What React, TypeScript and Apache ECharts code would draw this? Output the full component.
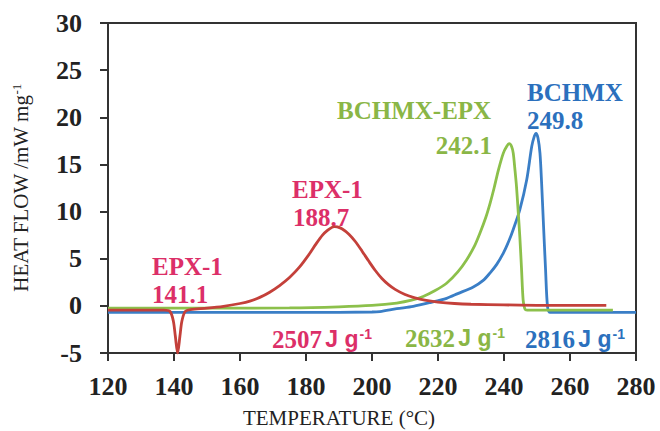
import React, { useEffect, useRef } from "react";
import * as echarts from "echarts";

// EPX-1 (red)
const epxT = [120, 130, 137, 138.8, 139.8, 140.4, 141.1, 141.8, 142.4, 143.4, 145, 150, 155, 160, 163, 166, 169, 172, 175, 178, 181, 183, 185, 186.5, 188, 188.7, 189.5, 191, 193, 195, 197, 199, 201, 203, 205, 207, 210, 213, 216, 220, 225, 230, 240, 250, 271];
const epxV = [-0.45, -0.45, -0.45, -0.6, -1.6, -3.2, -5.0, -3.2, -1.6, -0.6, -0.4, -0.25, -0.05, 0.25, 0.5, 0.9, 1.45, 2.15, 3.0, 4.1, 5.5, 6.55, 7.5, 8.0, 8.35, 8.4, 8.37, 8.15, 7.6, 6.8, 5.8, 4.75, 3.75, 2.9, 2.25, 1.75, 1.2, 0.85, 0.6, 0.4, 0.25, 0.17, 0.1, 0.06, 0.05];

// BCHMX-EPX (green)
const mixT = [120, 150, 175, 190, 200, 207.5, 212, 215.5, 219, 222.6, 226, 228.7, 231, 232.7, 234.5, 235.8, 237, 238.3, 239.8, 240.8, 241.6, 242.3, 242.8, 243.3, 243.8, 244.3, 244.8, 245.3, 245.8, 246.3, 247, 250, 260, 273];
const mixV = [-0.25, -0.25, -0.22, -0.1, 0.05, 0.3, 0.6, 1.0, 1.6, 2.4, 3.6, 4.9, 6.3, 7.7, 9.4, 10.9, 12.5, 14.4, 16.2, 16.9, 17.2, 16.9, 16.2, 14.5, 12.6, 10.0, 7.3, 4.0, 0.6, -0.3, -0.45, -0.45, -0.45, -0.45];

// BCHMX (blue)
const bchT = [120, 150, 180, 200, 202.4, 207.5, 212.5, 217.6, 222.6, 226, 230.7, 233.7, 235.8, 237.8, 239.8, 241.5, 242.8, 244.8, 246.9, 248.4, 249.2, 249.7, 250.3, 250.9, 251.4, 251.9, 252.6, 253.2, 254, 260, 280];
const bchV = [-0.7, -0.7, -0.7, -0.65, -0.6, -0.3, -0.05, 0.35, 0.8, 1.3, 2.0, 2.7, 3.5, 4.4, 5.6, 6.9, 8.1, 10.2, 13.4, 16.9, 18.0, 18.3, 17.8, 16.2, 13.0, 9.1, 3.8, -0.1, -0.7, -0.7, -0.7];

const xTicks = [120, 140, 160, 180, 200, 220, 240, 260, 280];
const yTicks = [-5, 0, 5, 10, 15, 20, 25, 30];

const seriesNames = ["BCHMX", "BCHMX-EPX", "EPX-1"];
const peakLabels = ["EPX-1", "141.1", "EPX-1", "188.7", "BCHMX-EPX", "242.1", "BCHMX", "249.8"];
const enthalpyValues = ["2507", "2632", "2816"];

const SERIF = "'Liberation Serif', 'Times New Roman', serif";
const SANS = "'Liberation Sans', Arial, sans-serif";
const PINK = "#dc2f68";
const GREEN_T = "#8ab646";
const BLUE_T = "#2b70bd";

const zip = (a: number[], b: number[]) => a.map((x, i) => [x, b[i]]);

export default function App() {
  const ref = useRef<HTMLDivElement>(null);
  useEffect(() => {
    if (!ref.current) return;
    const chart = echarts.init(ref.current, null, { renderer: "svg" });
    const lab = (text: string, x: number, y: number, fill: string, align = "left") => ({
      type: "text",
      x,
      y,
      style: {
        text,
        fill,
        font: `bold 25px ${SERIF}`,
        align,
        verticalAlign: "middle",
      },
    });
    const enth = (num: string, x: number, y: number, fill: string) => ({
      type: "text",
      x,
      y,
      style: {
        text: `{n|${num}} {u|J g}{s|-1}`,
        fill,
        align: "left",
        verticalAlign: "middle",
        rich: {
          n: { fontFamily: SERIF, fontWeight: "bold", fontSize: 25, fill, color: fill },
          u: { fontFamily: SANS, fontWeight: "bold", fontSize: 23, fill, color: fill },
          s: { fontFamily: SANS, fontWeight: "bold", fontSize: 14, fill, color: fill, verticalAlign: "top", padding: [0, 0, 8, 1] },
        },
      },
    });
    const axisLabelStyle = {
      fontFamily: SERIF,
      fontWeight: "bold",
      fontSize: 26,
      color: "#222",
    };
    chart.setOption({
      animation: false,
      backgroundColor: "#fff",
      grid: {
        left: 108,
        right: 24,
        top: 23,
        bottom: 78,
        show: true,
        borderColor: "#333",
        borderWidth: 2,
        backgroundColor: "transparent",
        containLabel: false,
        outerBoundsMode: "none",
      },
      xAxis: {
        type: "value",
        min: xTicks[0],
        max: xTicks[xTicks.length - 1],
        interval: 20,
        name: "TEMPERATURE (°C)",
        nameLocation: "middle",
        nameGap: 54,
        nameTextStyle: { fontFamily: SERIF, fontSize: 21, lineHeight: 21, color: "#222", padding: [0, 66, 0, 0] },
        axisLine: { show: true, onZero: false, lineStyle: { color: "#333", width: 2 } },
        axisTick: { show: true, inside: false, length: 8, lineStyle: { color: "#333", width: 2 } },
        axisLabel: { ...axisLabelStyle, margin: 20 },
        splitLine: { show: false },
      },
      yAxis: {
        type: "value",
        min: yTicks[0],
        max: yTicks[yTicks.length - 1],
        interval: 5,
        name: "HEAT FLOW /mW mg{sup|-1}",
        nameLocation: "middle",
        nameRotate: 90,
        nameGap: 77,
        nameTextStyle: {
          fontFamily: SERIF,
          fontSize: 21,
          color: "#222",
          rich: {
            sup: { fontFamily: SERIF, fontSize: 13, color: "#222", verticalAlign: "top" },
          },
        },
        axisLine: { show: true, onZero: false, lineStyle: { color: "#333", width: 2 } },
        axisTick: { show: true, inside: false, length: 8, lineStyle: { color: "#333", width: 2 } },
        axisLabel: { ...axisLabelStyle, margin: 26 },
        splitLine: { show: false },
      },
      series: [
        {
          name: seriesNames[0],
          type: "line",
          data: zip(bchT, bchV),
          showSymbol: false,
          smooth: 0.3,
          lineStyle: { color: "#3a7ec6", width: 2.8 },
          itemStyle: { color: "#3a7ec6" },
          z: 2,
        },
        {
          name: seriesNames[1],
          type: "line",
          data: zip(mixT, mixV),
          showSymbol: false,
          smooth: 0.3,
          lineStyle: { color: "#8cc04b", width: 2.8 },
          itemStyle: { color: "#8cc04b" },
          z: 3,
        },
        {
          name: seriesNames[2],
          type: "line",
          data: zip(epxT, epxV),
          showSymbol: false,
          smooth: 0.3,
          lineStyle: { color: "#c4403a", width: 2.8 },
          itemStyle: { color: "#c4403a" },
          z: 4,
        },
      ],
      graphic: [
        lab(peakLabels[0], 152, 266, PINK),
        lab(peakLabels[1], 152, 294, PINK),
        lab(peakLabels[2], 292, 189, PINK),
        lab(peakLabels[3], 293, 217, PINK),
        lab(peakLabels[4], 337, 110, GREEN_T),
        lab(peakLabels[5], 492, 145, GREEN_T, "right"),
        lab(peakLabels[6], 527, 92, BLUE_T),
        lab(peakLabels[7], 527, 120, BLUE_T),
        enth(enthalpyValues[0], 272, 339, PINK),
        enth(enthalpyValues[1], 405, 338, GREEN_T),
        enth(enthalpyValues[2], 525, 339, BLUE_T),
      ],
    });
    return () => chart.dispose();
  }, []);
  return (
    <div
      ref={ref}
      style={{ position: "fixed", left: 0, top: 0, width: 660, height: 431, background: "#fff" }}
    />
  );
}
